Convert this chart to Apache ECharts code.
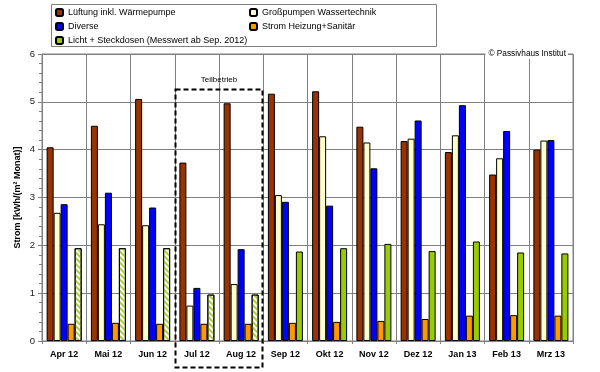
<!DOCTYPE html>
<html><head><meta charset="utf-8">
<script src="https://cdn.jsdelivr.net/npm/echarts@6/dist/echarts.min.js"></script>
<style>html,body{margin:0;padding:0;background:#fff}#c{width:600px;height:372px}</style>
</head><body><div id="c"></div>
<script>
const categories = ['Apr 12','Mai 12','Jun 12','Jul 12','Aug 12','Sep 12','Okt 12','Nov 12','Dez 12','Jan 13','Feb 13','Mrz 13'];
const lueftung    = [4.05,4.50,5.06,3.73,4.97,5.17,5.22,4.48,4.18,3.95,3.48,4.00];
const grosspumpen = [2.68,2.44,2.42,0.74,1.19,3.05,4.28,4.15,4.23,4.30,3.82,4.19];
const diverse     = [2.86,3.10,2.79,1.11,1.92,2.91,2.83,3.61,4.61,4.93,4.39,4.20];
const heizung     = [0.36,0.38,0.36,0.36,0.36,0.38,0.40,0.42,0.46,0.53,0.54,0.53];
const licht       = [1.94,1.94,1.94,0.97,0.97,1.87,1.94,2.03,1.88,2.08,1.85,1.83];
const lichtEstimated = [true,true,true,true,true,false,false,false,false,false,false,false];
const yTicks = [0,1,2,3,4,5,6];
const names = ['Lüftung inkl. Wärmepumpe','Großpumpen Wassertechnik','Diverse','Strom Heizung+Sanitär','Licht + Steckdosen (Messwert ab Sep. 2012)'];
const colors = ['#993300','#FFFFCC','#0000FF','#FF9900','#99CC00'];
const teilbetriebCats = ['Jul 12','Aug 12'];

const FONT = 'Liberation Sans, Arial, sans-serif';
const chart = echarts.init(document.getElementById('c'), null, {renderer:'canvas'});

function barSeries(i, data) {
  return {
    name: names[i], type: 'bar', data: data, barWidth: 7, barGap: '0%',
    itemStyle: {color: colors[i], borderColor: '#000', borderWidth: 1},
    animation: false
  };
}
const lichtData = licht.map((v, k) => lichtEstimated[k] ? {
  value: v,
  itemStyle: {color: '#ffffff', decal: {symbol: 'rect', symbolSize: 1, dashArrayX: [[1, 0]], dashArrayY: [1.5, 1.5], rotation: Math.PI / 4, color: '#a9cf3a'}}
} : v);

const legendCommon = {
  orient: 'vertical', top: 8, itemWidth: 7, itemHeight: 7, itemGap: 5, padding: 0,
  textStyle: {fontFamily: FONT, fontSize: 9, color: '#000'},
  selectedMode: false
};

chart.setOption({
  animation: false,
  grid: {left: 42, right: 27, top: 54, bottom: 31, show: true, borderColor: '#808080', borderWidth: 1, backgroundColor: 'transparent'},
  legend: [
    Object.assign({left: 55, data: [names[0], names[2], names[4]]}, legendCommon),
    Object.assign({left: 249, data: [names[1], names[3]]}, legendCommon)
  ],
  xAxis: {
    type: 'category', data: categories, boundaryGap: true,
    axisLine: {lineStyle: {color: '#808080', width: 1}},
    axisTick: {show: true, length: 3, lineStyle: {color: '#808080'}},
    splitLine: {show: true, lineStyle: {color: '#808080', width: 1}},
    axisLabel: {fontFamily: FONT, fontSize: 9, fontWeight: 'bold', color: '#000', margin: 9}
  },
  yAxis: {
    type: 'value', min: yTicks[0], max: yTicks[yTicks.length - 1], interval: 1,
    name: 'Strom [kWh/(m² Monat)]', nameLocation: 'middle', nameRotate: 90, nameGap: 20,
    nameMoveOverlap: false,
    nameTextStyle: {fontFamily: FONT, fontSize: 9, fontWeight: 'bold', color: '#000'},
    axisLine: {show: true, lineStyle: {color: '#808080', width: 1}},
    axisTick: {show: true, length: 4, lineStyle: {color: '#808080'}},
    minorTick: {show: true, splitNumber: 5, length: 3, lineStyle: {color: '#808080'}},
    splitLine: {show: true, lineStyle: {color: '#808080', width: 1}},
    axisLabel: {fontFamily: FONT, fontSize: 9.5, color: '#222', margin: 7}
  },
  series: [
    barSeries(0, lueftung),
    barSeries(1, grosspumpen),
    barSeries(2, diverse),
    barSeries(3, heizung),
    barSeries(4, lichtData)
  ]
});

// decorations: legend frame, copyright, "Teilbetrieb" box
const x1 = chart.convertToPixel({xAxisIndex: 0}, teilbetriebCats[0]);
const x2 = chart.convertToPixel({xAxisIndex: 0}, teilbetriebCats[1]);
const bw = x2 - x1;
const bl = Math.round(x1 - bw / 2) + 0.5;
const br = Math.round(x2 + bw / 2) - 0.5;
const bt = Math.round(chart.convertToPixel({yAxisIndex: 0}, 5.27)) + 0.5;
const bb = 367.5;
chart.setOption({
  graphic: [
    {type: 'rect', silent: true, z: 100, shape: {x: 51.5, y: 4.5, width: 385, height: 42}, style: {fill: 'none', stroke: '#808080', lineWidth: 1}},
    {type: 'text', silent: true, z: 100, x: 568, y: 54, style: {text: '© Passivhaus Institut', font: '8.3px ' + FONT, fill: '#000', align: 'right', verticalAlign: 'middle', backgroundColor: '#fff', padding: [1, 2, 1, 3]}},
    {type: 'rect', silent: true, z: 100, shape: {x: bl, y: bt, width: br - bl, height: bb - bt}, style: {fill: 'none', stroke: '#000', lineWidth: 2, lineDash: [5, 3]}},
    {type: 'text', silent: true, z: 100, x: (bl + br) / 2, y: bt - 10, style: {text: 'Teilbetrieb', font: '8px ' + FONT, fill: '#000', align: 'center', verticalAlign: 'middle'}}
  ]
});
</script></body></html>
